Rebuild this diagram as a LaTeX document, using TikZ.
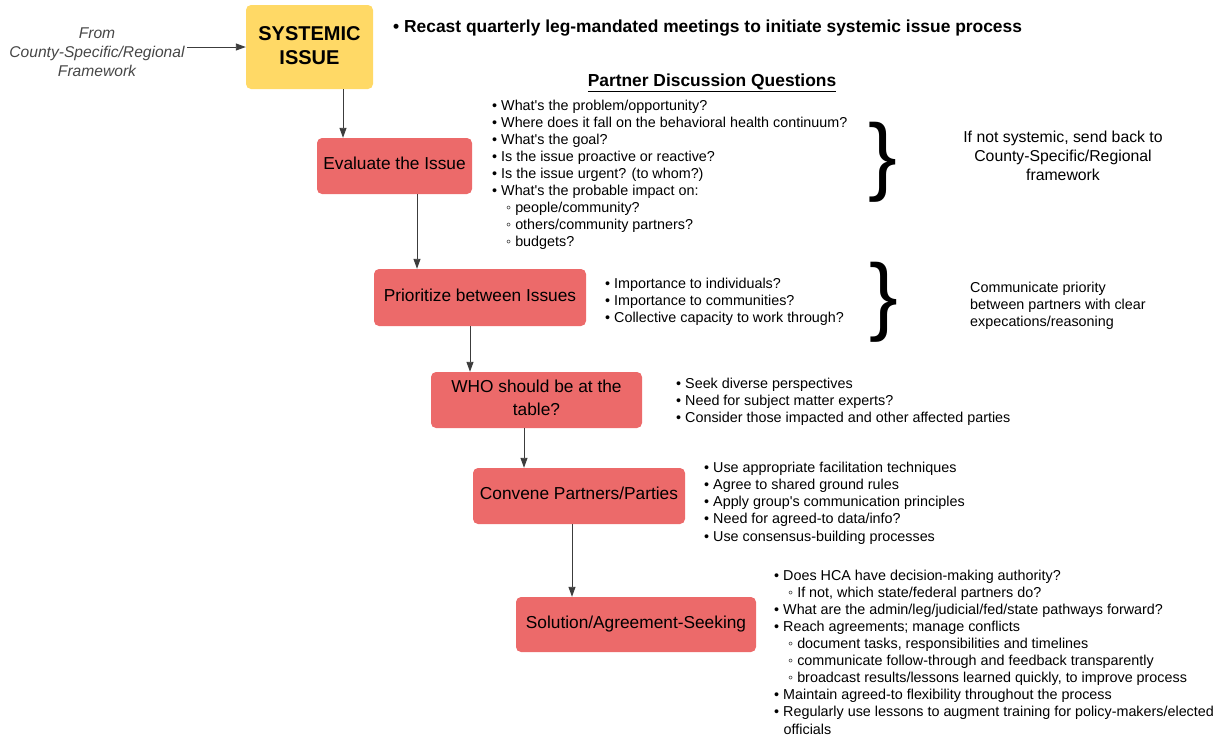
\documentclass[tikz,border=0pt]{standalone}
\usepackage{fontspec}
\setmainfont{Liberation Sans}
\usepackage{tikz}
\usetikzlibrary{arrows.meta}

\definecolor{boxred}{RGB}{236,106,106}
\definecolor{sysyellow}{RGB}{255,217,102}
\definecolor{arrowgray}{RGB}{60,60,60}
\definecolor{fromgray}{RGB}{70,70,70}

\begin{document}
\begin{tikzpicture}[x=1pt,y=-1pt,
        stepbox/.style={fill=boxred,rounded corners=5pt,inner sep=0pt,align=center,text depth=5pt,
            font=\fontsize{17.3}{22.5}\selectfont},
        arr/.style={draw=arrowgray,line width=0.9pt,-{Triangle[length=10pt,width=7pt]}},
        qlist/.style={anchor=north west,inner sep=0pt,align=left,
            font=\fontsize{14.35}{17.1}\selectfont},
        bigbrace/.style={inner sep=0pt,font=\fontsize{86}{86}\selectfont}]
        \useasboundingbox (0,0) rectangle (1228,740);

        % process boxes
        \node[stepbox,fill=sysyellow,minimum width=127pt,minimum height=84pt,text depth=2pt,
            font=\fontsize{20}{24}\selectfont\bfseries] (sys) at (309.5,47) {SYSTEMIC\\ISSUE};
        \node[stepbox,minimum width=155pt,minimum height=56pt] (eval) at (394.5,166) {Evaluate the Issue};
        \node[stepbox,minimum width=212pt,minimum height=57pt] (prio) at (480,297.5) {Prioritize between Issues};
        \node[stepbox,minimum width=211pt,minimum height=56pt] (who) at (536.5,400) {WHO should be at the\\table?};
        \node[stepbox,minimum width=212pt,minimum height=56pt] (conv) at (579,496) {Convene Partners/Parties};
        \node[stepbox,minimum width=240pt,minimum height=55pt] (sol) at (636,624.5) {Solution/Agreement-Seeking};

        % incoming text
        \node[align=center,text=fromgray,inner sep=2pt,
            font=\fontsize{15.6}{19}\selectfont\itshape] (from) at (97,52.5)
            {From\\County-Specific/Regional\\Framework};
        \draw[arr] (from.east |- sys.west) -- (sys.west);

        % arrows down the chain
        \foreach \a/\b/\x in {sys/eval/343,eval/prio/417,prio/who/470,who/conv/524,conv/sol/572}{
            \coordinate (t) at (\x,0);
            \draw[arr] (\a.south -| t) -- (\b.north -| t);
        }

        % headings
        \node[anchor=base west,inner sep=0pt,font=\fontsize{17.4}{21}\selectfont\bfseries] (recast)
            at (393,32) {• Recast quarterly leg-mandated meetings to initiate systemic issue process};
        \node[anchor=base,inner sep=0pt,font=\fontsize{17.4}{21}\selectfont\bfseries] (pdq)
            at (712,86) {\underline{Partner Discussion Questions}};

        % question lists
        \node[qlist] (qeval) at (492,99.5) {• What\textquotesingle s the problem/opportunity?\\
            • Where does it fall on the behavioral health continuum?\\
            • What\textquotesingle s the goal?\\
            • Is the issue proactive or reactive?\\
            • Is the issue urgent? (to whom?)\\
            • What\textquotesingle s the probable impact on:\\
            \hspace*{14pt}◦ people/community?\\
            \hspace*{14pt}◦ others/community partners?\\
            \hspace*{14pt}◦ budgets?};
        \node[qlist] (qprio) at (605,278) {• Importance to individuals?\\
            • Importance to communities?\\
            • Collective capacity to work through?};
        \node[qlist] (qwho) at (676,378) {• Seek diverse perspectives\\
            • Need for subject matter experts?\\
            • Consider those impacted and other affected parties};
        \node[qlist] (qconv) at (704,462) {• Use appropriate facilitation techniques\\
            • Agree to shared ground rules\\
            • Apply group\textquotesingle s communication principles\\
            • Need for agreed-to data/info?\\
            • Use consensus-building processes};
        \node[qlist] (qsol) at (774,569.5) {• Does HCA have decision-making authority?\\
            \hspace*{14pt}◦ If not, which state/federal partners do?\\
            • What are the admin/leg/judicial/fed/state pathways forward?\\
            • Reach agreements; manage conflicts\\
            \hspace*{14pt}◦ document tasks, responsibilities and timelines\\
            \hspace*{14pt}◦ communicate follow-through and feedback transparently\\
            \hspace*{14pt}◦ broadcast results/lessons learned quickly, to improve process\\
            • Maintain agreed-to flexibility throughout the process\\
            • Regularly use lessons to augment training for policy-makers/elected\\
            \hspace*{9.5pt}officials};

        % braces and side notes
        \node[bigbrace] (br1) at (883,162) {\}};
        \node[bigbrace] (br2) at (884,302) {\}};
        \node[align=center,inner sep=0pt,font=\fontsize{15.8}{19}\selectfont] (back) at (1063,156)
            {If not systemic, send back to\\County-Specific/Regional\\framework};
        \node[qlist] (comm) at (970,282) {Communicate priority\\between partners with clear\\expecations/reasoning};
    \end{tikzpicture}
\end{document}
